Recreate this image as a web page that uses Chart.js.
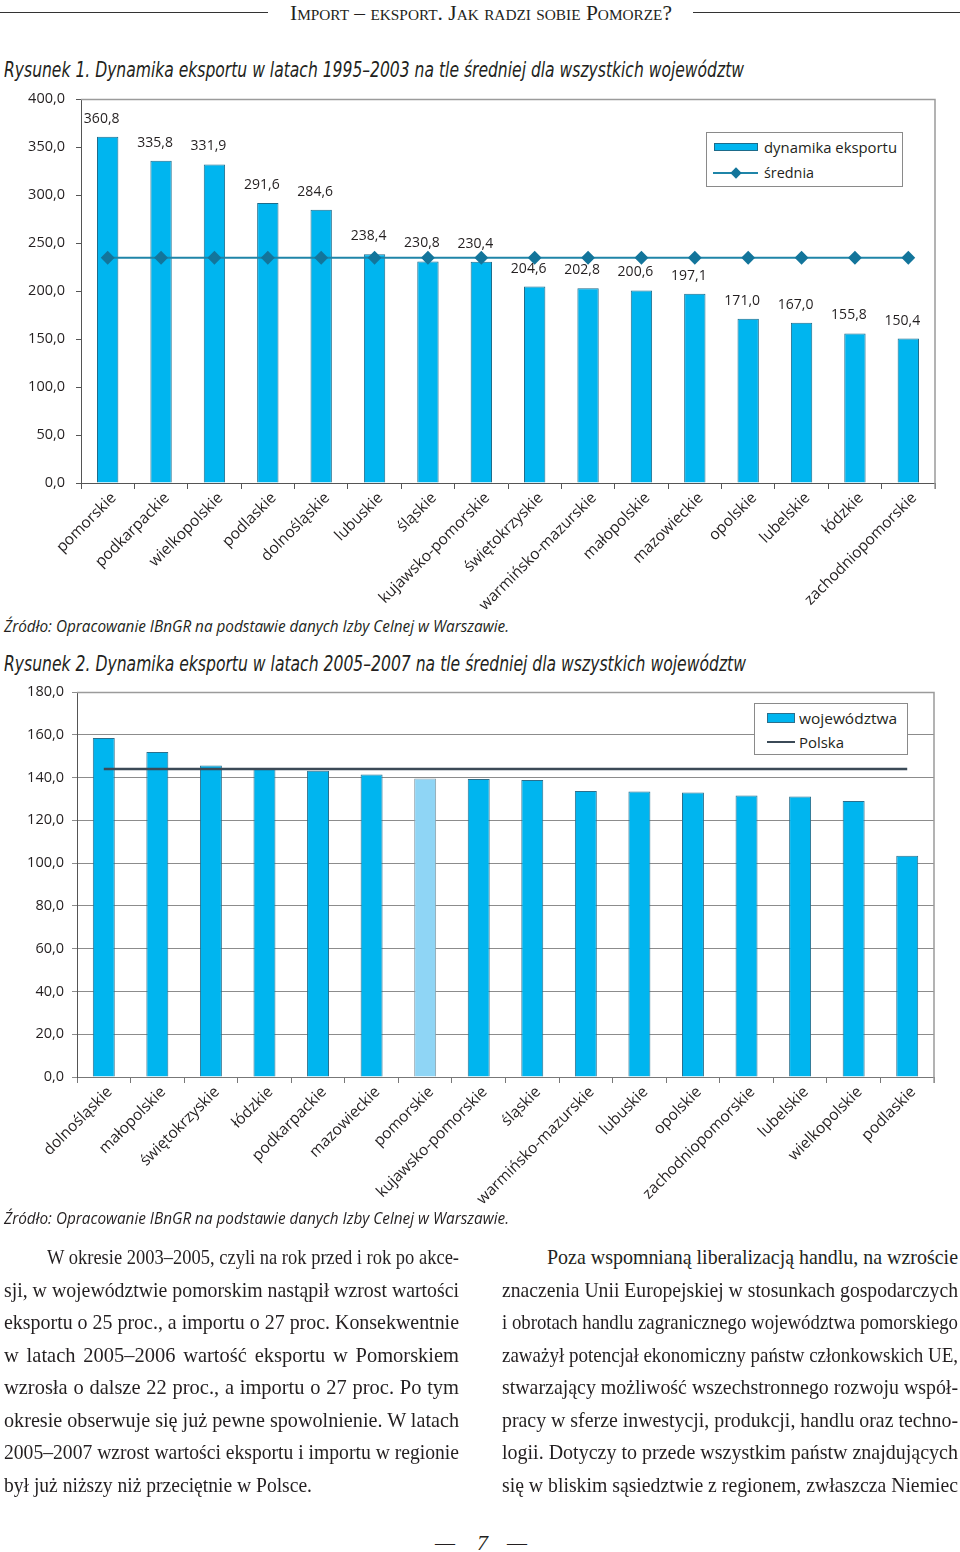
<!DOCTYPE html>
<html><head><meta charset="utf-8">
<script src="https://cdn.jsdelivr.net/npm/chart.js@4.4.1/dist/chart.umd.min.js"></script>
<style>
html,body{margin:0;padding:0;background:#fff;}
body{width:960px;height:1552px;position:relative;overflow:hidden;color:#231f20;}
.abs{position:absolute;white-space:nowrap;}
.hl{position:absolute;height:1px;background:#333;}
canvas{position:absolute;left:0;}
.lbox{position:absolute;border:1px solid #8a8a8a;background:#fff;box-sizing:border-box;}
</style>
</head><body>
<div class="hl" style="left:0;top:12px;width:268px;"></div>
<div class="hl" style="left:693px;top:12px;width:267px;"></div>

<canvas id="c1" width="960" height="520" style="top:90px"></canvas>
<canvas id="c2" width="960" height="530" style="top:680px"></canvas>

<div class="lbox" style="left:706px;top:132px;width:197px;height:55px;"></div>
<div style="position:absolute;left:714px;top:143px;width:44px;height:8px;background:#00b5ef;border:1px solid #1d6b8a;box-sizing:border-box;"></div>
<div style="position:absolute;left:713px;top:171.5px;width:45px;height:2px;background:#1f85a8;"></div>
<div style="position:absolute;left:732px;top:168.5px;width:8px;height:8px;background:#13759b;transform:rotate(45deg);"></div>

<div class="lbox" style="left:754px;top:703px;width:154px;height:52px;"></div>
<div style="position:absolute;left:767px;top:713px;width:28px;height:10px;background:#00b5ef;border:1px solid #2b6f8c;box-sizing:border-box;"></div>
<div style="position:absolute;left:767px;top:741px;width:28px;height:2px;background:#3b4a57;"></div>

<script>
// ---------- data ----------
const cats1 = ['pomorskie','podkarpackie','wielkopolskie','podlaskie','dolnośląskie','lubuskie','śląskie','kujawsko-pomorskie','świętokrzyskie','warmińsko-mazurskie','małopolskie','mazowieckie','opolskie','lubelskie','łódzkie','zachodniopomorskie'];
const export1 = [360.8,335.8,331.9,291.6,284.6,238.4,230.8,230.4,204.6,202.8,200.6,197.1,171.0,167.0,155.8,150.4];
const mean1 = [234.6,234.6,234.6,234.6,234.6,234.6,234.6,234.6,234.6,234.6,234.6,234.6,234.6,234.6,234.6,234.6];
const yTicks1 = [0,50,100,150,200,250,300,350,400];

const cats2 = ['dolnośląskie','małopolskie','świętokrzyskie','łódzkie','podkarpackie','mazowieckie','pomorskie','kujawsko-pomorskie','śląskie','warmińsko-mazurskie','lubuskie','opolskie','zachodniopomorskie','lubelskie','wielkopolskie','podlaskie'];
const voiv2 = [158.5,151.9,145.6,144.0,143.2,141.4,139.6,139.3,138.8,133.7,133.5,133.0,131.6,131.1,129.0,103.5];
const poland2 = [144.0,144.0,144.0,144.0,144.0,144.0,144.0,144.0,144.0,144.0,144.0,144.0,144.0,144.0,144.0,144.0];
const yTicks2 = [0,20,40,60,80,100,120,140,160,180];
const highlight2 = 'pomorskie';

const legend1 = ['dynamika eksportu','średnia'];
const legend2 = ['województwa','Polska'];

// ---------- text helpers ----------
function place(txt, x, yc, o){
  const d=document.createElement('div');
  d.className='abs';
  d.style.left=x+'px';
  d.style.font=o.font;
  d.style.lineHeight=o.lh+'px';
  d.style.top=(yc-o.lh/2)+'px';
  if(o.color) d.style.color=o.color;
  if(o.variant) d.style.fontVariant=o.variant;
  const s=document.createElement('span');
  s.textContent=txt;
  s.style.display='inline-block';
  s.style.transformOrigin='0 50%';
  d.appendChild(s);
  document.body.appendChild(d);
  const w=s.getBoundingClientRect().width;
  const base=o.base||1;
  if(o.width){
    if(o.justify && w*base<o.width){
      const n=(txt.match(/ /g)||[]).length;
      if(n) s.style.wordSpacing=((o.width/base-w)/n)+'px';
      s.style.transform='scaleX('+base+')';
    } else {
      s.style.transform='scaleX('+(o.width/w)+')';
    }
  } else if(base!==1){
    s.style.transform='scaleX('+base+')';
  }
  return d;
}
const SANS='"Open Sans","Noto Sans","DejaVu Sans",sans-serif';
const NARROW='"Liberation Sans Narrow","DejaVu Sans Condensed","Open Sans",sans-serif';
const SERIF='"Liberation Serif","DejaVu Serif",serif';

place('Import – eksport. Jak radzi sobie Pomorze?',290,13,{font:'21px '+SERIF,lh:24,width:382,variant:'small-caps'});
place('Rysunek 1.  Dynamika eksportu w latach 1995–2003 na tle średniej dla wszystkich województw',4,70,{font:'italic 21px '+NARROW,lh:24,width:740});
place('Źródło: Opracowanie IBnGR na podstawie danych Izby Celnej w Warszawie.',4,626,{font:'italic 16px '+SANS,lh:20,width:505});
place('Rysunek 2.  Dynamika eksportu w latach 2005–2007 na tle średniej dla wszystkich województw',4,664,{font:'italic 21px '+NARROW,lh:24,width:742});
place('Źródło: Opracowanie IBnGR na podstawie danych Izby Celnej w Warszawie.',4,1218,{font:'italic 16px '+SANS,lh:20,width:505});

place(legend1[0],764,147,{font:'15px '+SANS,lh:20,width:133});
place(legend1[1],764,172,{font:'15px '+SANS,lh:20,width:50});
place(legend2[0],799,717.5,{font:'15px '+SANS,lh:20,width:98});
place(legend2[1],799,742,{font:'15px '+SANS,lh:20,width:45});

const leftLines=['W okresie 2003–2005, czyli na rok przed i rok po akce-','sji, w województwie pomorskim nastąpił wzrost wartości','eksportu o 25 proc., a importu o 27 proc. Konsekwentnie','w latach 2005–2006 wartość eksportu w Pomorskiem','wzrosła o dalsze 22 proc., a importu o 27 proc. Po tym','okresie obserwuje się już pewne spowolnienie. W latach','2005–2007 wzrost wartości eksportu i importu w regionie','był już niższy niż przeciętnie w Polsce.'];
const rightLines=['Poza wspomnianą liberalizacją handlu, na wzroście','znaczenia Unii Europejskiej w stosunkach gospodarczych','i obrotach handlu zagranicznego województwa pomorskiego','zaważył potencjał ekonomiczny państw członkowskich UE,','stwarzający możliwość wszechstronnego rozwoju współ-','pracy w sferze inwestycji, produkcji, handlu oraz techno-','logii. Dotyczy to przede wszystkim państw znajdujących','się w bliskim sąsiedztwie z regionem, zwłaszcza Niemiec'];
const lineY=[1257,1290,1322,1355,1387,1420,1452,1485];
leftLines.forEach((t,i)=>{
  const x=i===0?47:4;
  if(i===7) place(t,x,lineY[i],{font:'22px '+SERIF,lh:26,width:308});
  else place(t,x,lineY[i],{font:'22px '+SERIF,lh:26,width:459-x,justify:true,base:0.93});
});
rightLines.forEach((t,i)=>{
  const x=i===0?547:502;
  place(t,x,lineY[i],{font:'22px '+SERIF,lh:26,width:958-x,justify:true,base:0.93});
});
place('—',435,1543,{font:'20px '+SERIF,lh:24,width:20});
place('7',477,1543,{font:'italic 22px '+SERIF,lh:26});
place('—',507,1543,{font:'20px '+SERIF,lh:24,width:20});

// ---------- charts ----------
Chart.defaults.font.family=SANS;
Chart.defaults.color='#231f20';
const fmt=v=>Number(v).toFixed(1).replace('.',',');

const frame=(color,ext)=>({
  id:'frame',
  afterDatasetsDraw(chart){
    const {ctx,chartArea:a}=chart;
    ctx.save();ctx.strokeStyle=color;ctx.lineWidth=1.5;
    ctx.beginPath();ctx.moveTo(a.left,a.top+0.5);ctx.lineTo(a.right,a.top+0.5);ctx.lineTo(a.right,a.bottom+ext);ctx.stroke();
    ctx.restore();
  }
});
const valueLabels={
  id:'valueLabels',
  afterDatasetsDraw(chart){
    const ctx=chart.ctx;
    const idx=chart.data.datasets.findIndex(d=>d.type==='bar');
    const meta=chart.getDatasetMeta(idx);
    ctx.save();
    ctx.font='14px '+SANS;ctx.fillStyle='#231f20';ctx.textAlign='center';ctx.textBaseline='middle';
    meta.data.forEach((el,i)=>{ctx.fillText(fmt(chart.data.datasets[idx].data[i]),el.x-6,el.y-18);});
    ctx.restore();
  }
};
function fixY(w){return s=>{s.width=w;s.paddingTop=0;s.paddingBottom=0;};}
function fixX(h){return s=>{s.height=h;s.paddingLeft=0;s.paddingRight=0;};}

new Chart(document.getElementById('c1'),{
  data:{labels:cats1,datasets:[
    {type:'line',label:legend1[1],data:mean1,borderColor:'#1f85a8',borderWidth:2,pointStyle:'rectRot',pointRadius:5.5,pointBackgroundColor:'#13759b',pointBorderColor:'#13759b',order:0},
    {type:'bar',label:legend1[0],data:export1,backgroundColor:'#00b5ef',borderColor:'#1d6b8a',borderWidth:1,barPercentage:0.4,categoryPercentage:1,order:1}
  ]},
  options:{
    responsive:false,animation:false,
    layout:{padding:{top:9,right:25,left:0,bottom:0}},
    plugins:{legend:{display:false},tooltip:{enabled:false}},
    scales:{
      x:{grid:{offset:true,drawOnChartArea:false,drawTicks:true,tickLength:6,color:'#555'},border:{color:'#555'},
        ticks:{font:{size:15.5},minRotation:45,maxRotation:45,autoSkip:false,padding:0,labelOffset:6},
        afterFit:fixX(127)},
      y:{min:0,max:400,afterBuildTicks(s){s.ticks=yTicks1.map(v=>({value:v}));},
        ticks:{font:{size:14.5},padding:11,callback:v=>fmt(v)},
        grid:{drawOnChartArea:false,tickLength:5,color:'#555'},border:{color:'#555'},
        afterFit:fixY(81)}
    }
  },
  plugins:[frame('#9b9b9b',6),valueLabels]
});

new Chart(document.getElementById('c2'),{
  data:{labels:cats2,datasets:[
    {type:'line',label:legend2[1],data:poland2,borderColor:'#3b4a57',borderWidth:2.5,pointRadius:0,order:0},
    {type:'bar',label:legend2[0],data:voiv2,
      backgroundColor:cats2.map(c=>c===highlight2?'#8fd5f5':'#00b5ef'),
      borderColor:cats2.map(c=>c===highlight2?'#8a9ea8':'#2b6f8c'),
      borderWidth:1,barPercentage:0.41,categoryPercentage:1,order:1}
  ]},
  options:{
    responsive:false,animation:false,
    layout:{padding:{top:12,right:26,left:0,bottom:0}},
    plugins:{legend:{display:false},tooltip:{enabled:false}},
    scales:{
      x:{grid:{offset:true,drawOnChartArea:false,drawTicks:true,tickLength:6,color:'#777'},border:{color:'#777'},
        ticks:{font:{size:15.5},minRotation:45,maxRotation:45,autoSkip:false,padding:0,labelOffset:6},
        afterFit:fixX(133)},
      y:{min:0,max:180,afterBuildTicks(s){s.ticks=yTicks2.map(v=>({value:v}));},
        ticks:{font:{size:14.5},padding:8,callback:v=>fmt(v)},
        grid:{drawOnChartArea:true,tickLength:5,color:'#8c8c8c'},border:{color:'#555'},
        afterFit:fixY(77)}
    }
  },
  plugins:[frame('#9b9b9b',6)]
});
</script>
</body></html>
